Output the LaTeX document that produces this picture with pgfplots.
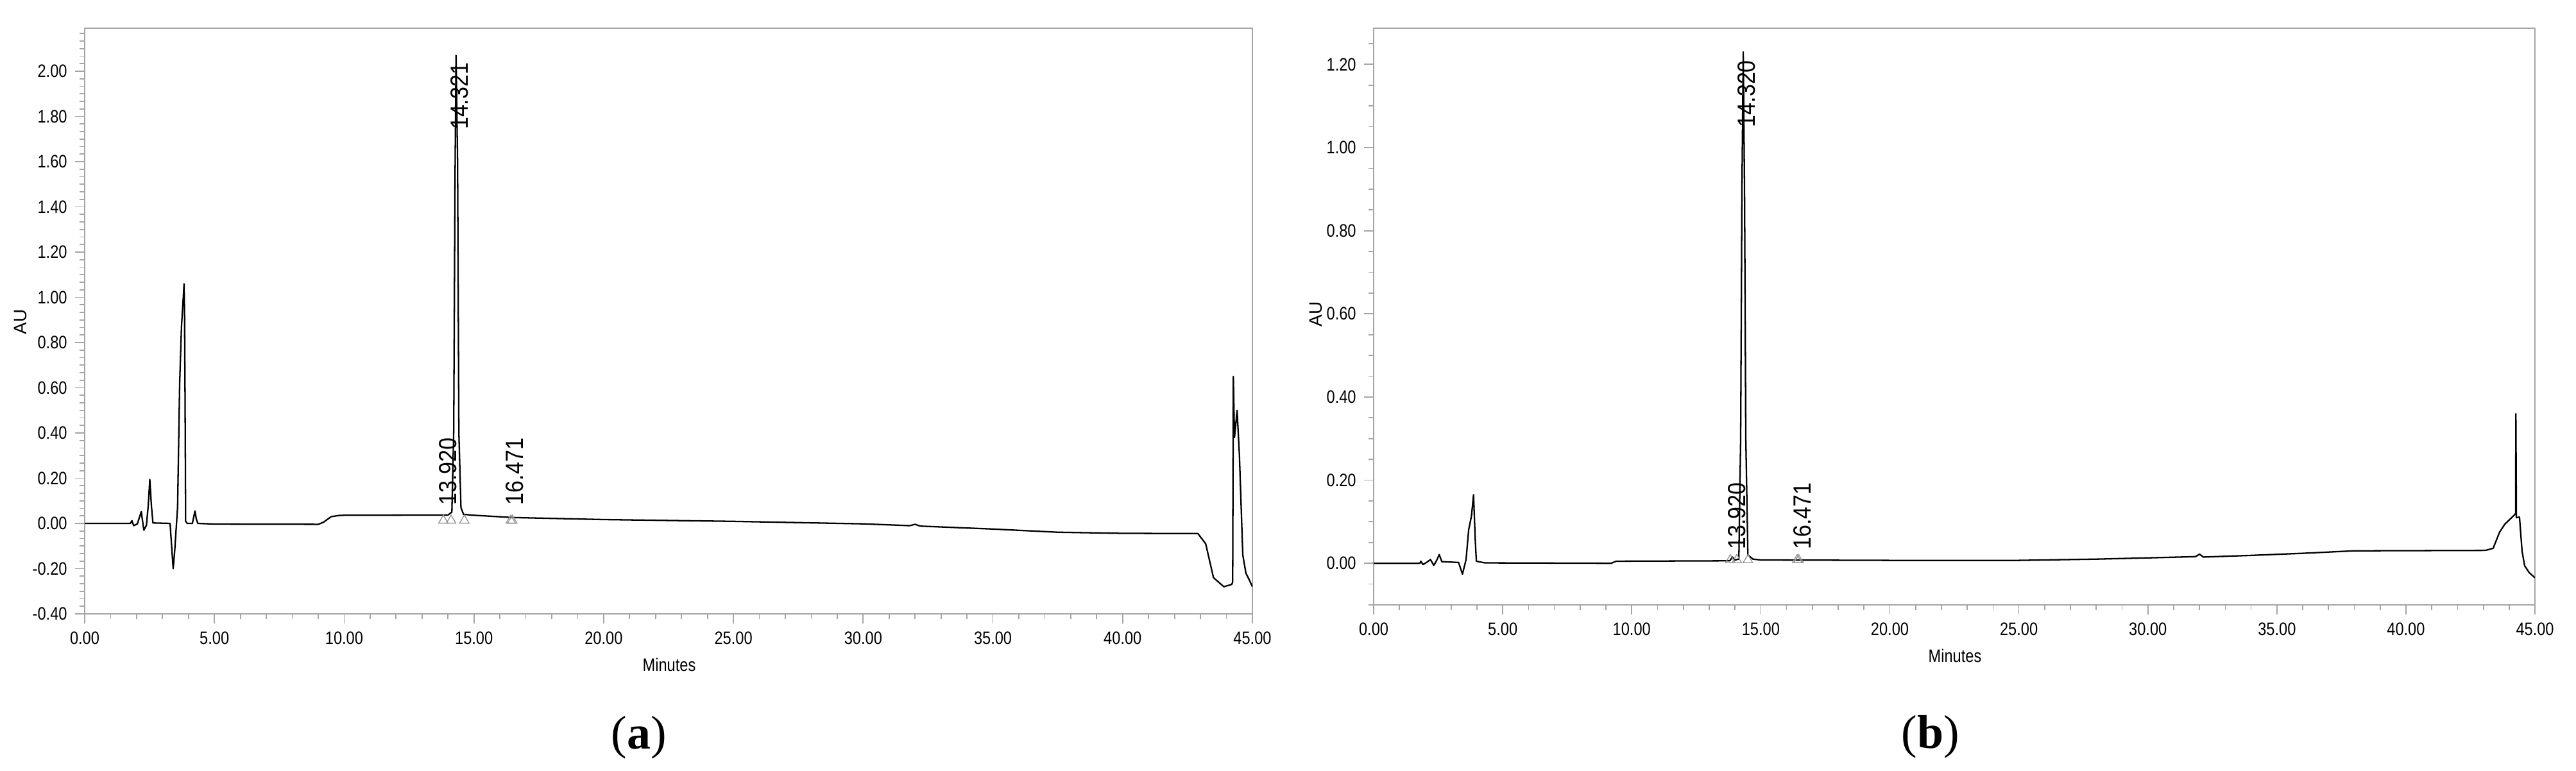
\documentclass[border=0pt]{standalone}
\usepackage{pgfplots}
\pgfplotsset{compat=1.18}
\usepackage{fontspec}
\setmainfont{Liberation Sans}
\newfontfamily\narrowfont[FakeStretch=0.84]{Liberation Sans}
\newfontfamily\labfont[FakeStretch=0.88]{Liberation Sans}
\newfontfamily\capfont{Liberation Serif}
\definecolor{axgray}{RGB}{165,165,165}
\definecolor{markgray}{RGB}{150,150,150}
\tikzset{
  trace/.style={black, line width=0.65pt, line join=round},
  tri/.style={only marks, mark=triangle, mark size=2.4pt, mark options={draw=markgray, line width=0.4pt}},
  plab/.style={rotate=90, anchor=west, inner sep=0pt, font=\labfont\fontsize{11}{13}\selectfont},
}
\pgfplotsset{
  chrom/.style={
    scale only axis,
    xmin=0, xmax=45,
    axis line style={draw=axgray, line width=0.6pt},
    tick align=outside, tick pos=left,
    major tick length=1.5mm, minor tick length=0.8mm,
    every tick/.style={draw=axgray, line width=0.5pt},
    xtick={0,5,10,15,20,25,30,35,40,45},
    xticklabels={0.00,5.00,10.00,15.00,20.00,25.00,30.00,35.00,40.00,45.00},
    minor xtick={0,1,...,45},
    ticklabel style={font=\narrowfont\fontsize{8}{9}\selectfont, text=black},
  }
}
\begin{document}
\begin{tikzpicture}[x=1mm,y=1mm]
\useasboundingbox (0,0) rectangle (401.5,120.1);
% ---------- panel (a) ----------
\begin{axis}[chrom,
  at={(13.2mm,24.4mm)}, anchor=south west,
  width=182mm, height=91.3mm,
  ymin=-0.4, ymax=2.19,
  ytick={-0.4,-0.2,0,0.2,0.4,0.6,0.8,1,1.2,1.4,1.6,1.8,2},
  yticklabels={-0.40,-0.20,0.00,0.20,0.40,0.60,0.80,1.00,1.20,1.40,1.60,1.80,2.00},
  minor ytick={-0.4,-0.366667,...,2.18},
]
\addplot[trace] coordinates {
(0,0) (1.76,0) (1.82,0.012) (1.89,-0.01) (2.03,-0.002) (2.18,0.052) (2.28,-0.03)
(2.38,-0.008) (2.45,0.08) (2.51,0.194) (2.57,0.08) (2.63,0.002) (3.29,0.0)
(3.35,-0.1) (3.41,-0.20) (3.47,-0.12) (3.58,0.072) (3.66,0.62) (3.73,0.87)
(3.80,1.0) (3.83,1.06) (3.85,0.9) (3.87,0.52) (3.89,0.01) (3.95,0.0) (4.15,0.0)
(4.25,0.055) (4.30,0.02) (4.36,0.0) (5,-0.003) (9.0,-0.004) (9.2,0.005)
(9.5,0.03) (9.8,0.035) (10,0.036) (14.0,0.037) (14.15,0.05) (14.22,0.4)
(14.27,1.5) (14.31,2.07) (14.37,1.6) (14.42,0.4) (14.5,0.07) (14.6,0.04)
(15,0.036) (16.5,0.026) (20,0.017) (25,0.009) (30,-0.002) (31.8,-0.01)
(32.0,-0.004) (32.2,-0.012) (35,-0.025) (37.5,-0.039) (40,-0.044) (42.9,-0.045)
(43.2,-0.09) (43.5,-0.24) (43.9,-0.28) (44.2,-0.27) (44.24,-0.26) (44.265,0.65)
(44.31,0.38) (44.41,0.50) (44.5,0.30) (44.63,-0.14) (44.75,-0.22) (44.88,-0.25)
(45,-0.28)
};
\addplot[tri] coordinates {(13.82,0.013) (14.12,0.013) (14.63,0.013) (16.42,0.013) (16.48,0.013)};
\node[plab] at (axis cs:13.99,0.08) {13.920};
\node[plab] at (axis cs:14.45,1.74) {14.321};
\node[plab] at (axis cs:16.57,0.08) {16.471};
\end{axis}
% ---------- panel (b) ----------
\begin{axis}[chrom,
  at={(214.1mm,25.8mm)}, anchor=south west,
  width=181mm, height=89.9mm,
  ymin=-0.1, ymax=1.287,
  ytick={0,0.2,0.4,0.6,0.8,1,1.2},
  yticklabels={0.00,0.20,0.40,0.60,0.80,1.00,1.20},
  minor ytick={-0.1,-0.05,...,1.28},
]
\addplot[trace] coordinates {
(0,0) (1.79,0) (1.83,0.005) (1.91,-0.003) (2.05,0.002) (2.2,0.009) (2.33,-0.005)
(2.45,0.008) (2.54,0.021) (2.64,0.004) (3.29,0.002) (3.44,-0.026) (3.58,0.009)
(3.68,0.08) (3.79,0.114) (3.87,0.165) (3.94,0.05) (3.98,0.005) (4.3,0.001)
(9.2,0.0) (9.4,0.005) (13.8,0.006) (13.9,0.015) (14.0,0.008) (14.15,0.01)
(14.22,0.3) (14.27,0.9) (14.32,1.23) (14.37,0.9) (14.42,0.3) (14.5,0.02)
(14.7,0.01) (15,0.008) (20,0.007) (25,0.007) (28,0.01) (30,0.013) (31.85,0.016)
(32.0,0.022) (32.15,0.015) (34,0.019) (36,0.024) (38,0.03) (43.08,0.031)
(43.38,0.036) (43.5,0.055) (43.63,0.075) (43.83,0.094) (44.2,0.116) (44.25,0.12)
(44.26,0.36) (44.28,0.11) (44.4,0.111) (44.5,0.029) (44.6,-0.006) (44.77,-0.022)
(45,-0.035)
};
\addplot[tri] coordinates {(13.82,0.008) (14.07,0.008) (14.5,0.008) (16.41,0.008) (16.47,0.008)};
\node[plab] at (axis cs:14.07,0.032) {13.920};
\node[plab] at (axis cs:14.46,1.048) {14.320};
\node[plab] at (axis cs:16.6,0.032) {16.471};
\end{axis}
% ---------- outer labels ----------
\node[rotate=90, font=\fontsize{8}{9}\selectfont] at (3.2,69.9) {AU};
\node[rotate=90, font=\fontsize{8}{9}\selectfont] at (205.1,71.1) {AU};
\node[font=\narrowfont\fontsize{8}{9}\selectfont] at (104.3,16.5) {Minutes};
\node[font=\narrowfont\fontsize{8}{9}\selectfont] at (304.7,17.9) {Minutes};
\node[font=\capfont\fontsize{21}{24}\selectfont] at (99.6,5.1) {(\textbf{a})};
\node[font=\capfont\fontsize{21}{24}\selectfont] at (300.9,5.2) {(\textbf{b})};
\end{tikzpicture}
\end{document}
